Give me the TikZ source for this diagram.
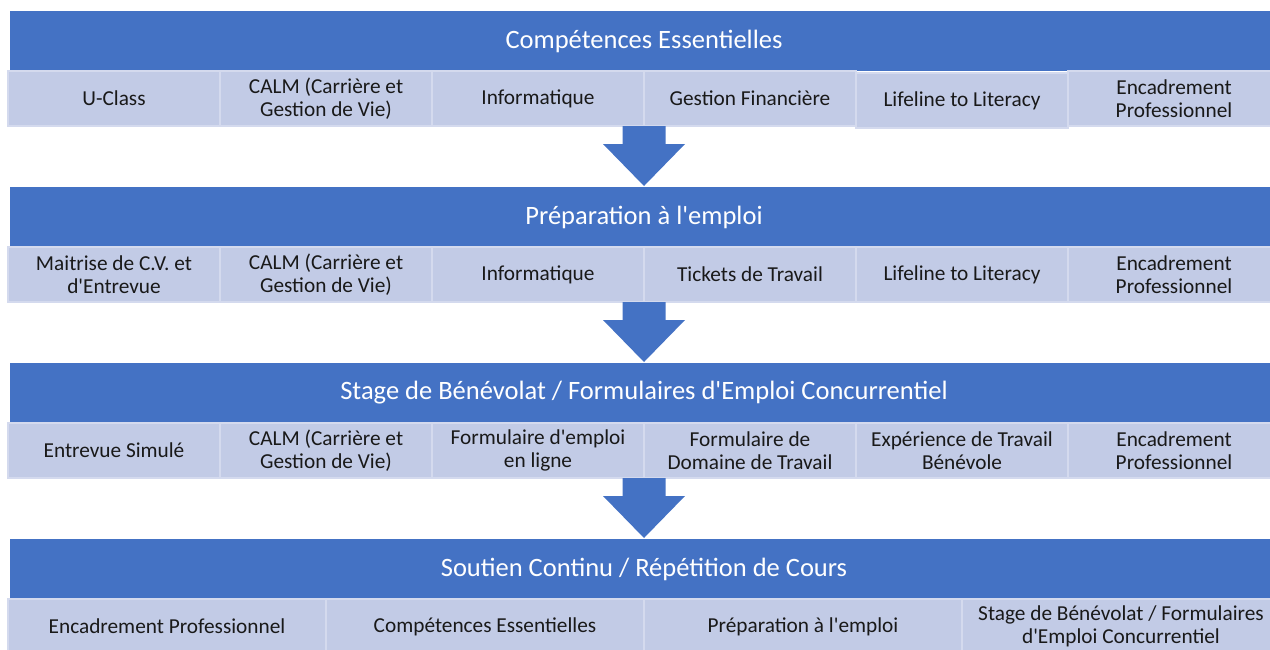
\documentclass[tikz,border=0pt]{standalone}
\usepackage{fontspec}
\setmainfont{Carlito}[Ligatures=TeXOff]
\usepackage{xcolor}
\usepackage{tikz}
\usetikzlibrary{positioning, calc}

\definecolor{hdrblue}{HTML}{4472C4}
\definecolor{cellfill}{HTML}{C2CBE6}
\definecolor{cellline}{HTML}{D4DAEE}
\newcommand{\hdrfont}{\fontsize{26.5}{31.8}\selectfont}
\newcommand{\cellfont}{\fontsize{21.3}{22.8}\selectfont}

\begin{document}
\begin{tikzpicture}[
                x=1pt, y=-1pt,
                node distance=0pt,
                hdrbox/.style={fill=hdrblue, minimum width=1268pt, minimum height=60pt,
                    inner sep=0pt, outer sep=0pt, text=white, font=\hdrfont},
                cellbox/.style={draw=cellline, line width=1.5pt, fill=cellfill,
                    minimum width=212pt, minimum height=55pt, inner sep=2pt,
                    outer sep=0pt, align=center, text=black!90, font=\cellfont},
                widebox/.style={cellbox, minimum width=318pt},
                flowarrow/.style={fill=hdrblue}
                ]
                \useasboundingbox (0,0) rectangle (1270,649);

                % 1단계
                \node[hdrbox, anchor=north west] (h1) at (10,11) {Compétences Essentielles};
                \node[cellbox, anchor=north west] (s11) at (8,71) {U-Class};
                \node[cellbox] (s12) [right=of s11] {CALM (Carrière et\\Gestion de Vie)};
                \node[cellbox] (s13) [right=of s12] {Informatique};
                \node[cellbox] (s14) [right=of s13] {Gestion Financière};
                \node[cellbox, yshift=-2pt] (s15) [right=of s14] {Lifeline to Literacy};
                \node[cellbox] (s16) [right=of s15, yshift=2pt] {Encadrement\\Professionnel};

                % 2단계
                \node[hdrbox, anchor=north west] (h2) at (10,187) {Préparation à l'emploi};
                \node[cellbox, anchor=north west] (s21) at (8,247) {Maitrise de C.V. et\\d'Entrevue};
                \node[cellbox] (s22) [right=of s21] {CALM (Carrière et\\Gestion de Vie)};
                \node[cellbox] (s23) [right=of s22] {Informatique};
                \node[cellbox] (s24) [right=of s23] {Tickets de Travail};
                \node[cellbox] (s25) [right=of s24] {Lifeline to Literacy};
                \node[cellbox] (s26) [right=of s25] {Encadrement\\Professionnel};

                % 3단계
                \node[hdrbox, anchor=north west] (h3) at (10,363) {Stage de Bénévolat / Formulaires d'Emploi Concurrentiel};
                \node[cellbox, anchor=north west] (s31) at (8,423) {Entrevue Simulé};
                \node[cellbox] (s32) [right=of s31] {CALM (Carrière et\\Gestion de Vie)};
                \node[cellbox] (s33) [right=of s32] {Formulaire d'emploi\\en ligne};
                \node[cellbox] (s34) [right=of s33] {Formulaire de\\Domaine de Travail};
                \node[cellbox] (s35) [right=of s34] {Expérience de Travail\\Bénévole};
                \node[cellbox] (s36) [right=of s35] {Encadrement\\Professionnel};

                % 4단계
                \node[hdrbox, anchor=north west] (h4) at (10,539) {Soutien Continu / Répétition de Cours};
                \node[widebox, anchor=north west] (s41) at (8,599) {Encadrement Professionnel};
                \node[widebox] (s42) [right=of s41] {Compétences Essentielles};
                \node[widebox] (s43) [right=of s42] {Préparation à l'emploi};
                \node[widebox] (s44) [right=of s43] {Stage de Bénévolat / Formulaires\\d'Emploi Concurrentiel};

                % 화살표
                \fill[flowarrow] ($(s13.south east)+(-21.5,0)$) -- ++(0,18) -- ++(-19.5,0)
                    -- ++(41,42) -- ++(41,-42) -- ++(-19.5,0) -- ++(0,-18) -- cycle;
                \fill[flowarrow] ($(s23.south east)+(-21.5,0)$) -- ++(0,18) -- ++(-19.5,0)
                    -- ++(41,42) -- ++(41,-42) -- ++(-19.5,0) -- ++(0,-18) -- cycle;
                \fill[flowarrow] ($(s33.south east)+(-21.5,0)$) -- ++(0,18) -- ++(-19.5,0)
                    -- ++(41,42) -- ++(41,-42) -- ++(-19.5,0) -- ++(0,-18) -- cycle;
            \end{tikzpicture}
\end{document}
